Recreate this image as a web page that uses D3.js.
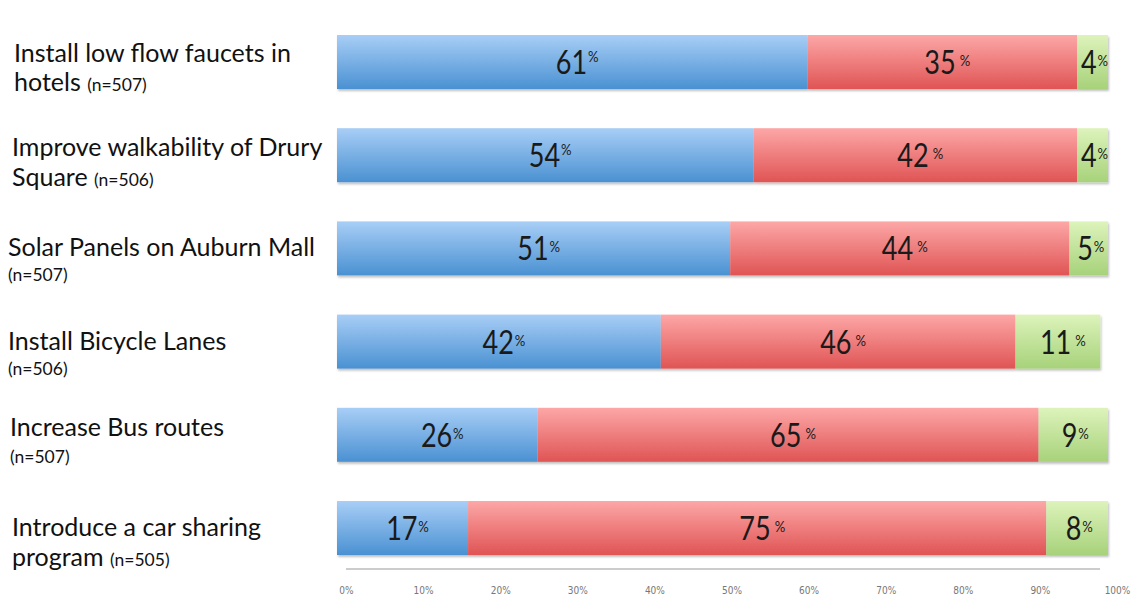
<!DOCTYPE html>
<html>
<head>
<meta charset="utf-8">
<script src="https://cdn.jsdelivr.net/npm/d3@7"></script>
<style>
  html, body { margin: 0; padding: 0; background: #fff; }
  svg { display: block; }
</style>
</head>
<body>
<div id="chart"></div>
<script>
// Survey items, wrapped over two lines; the sample size follows the second line
const labelLines = [
  ["Install low flow faucets in", "hotels"],
  ["Improve walkability of Drury", "Square"],
  ["Solar Panels on Auburn Mall", ""],
  ["Install Bicycle Lanes", ""],
  ["Increase Bus routes", ""],
  ["Introduce a car sharing", "program"]
];
const sampleSizes = [507, 506, 507, 506, 507, 505];

// Response shares (%) per item
const support = [61, 54, 51, 42, 26, 17];
const oppose  = [35, 42, 44, 46, 65, 75];
const unsure  = [4, 4, 5, 11, 9, 8];

const tickValues = [0, 10, 20, 30, 40, 50, 60, 70, 80, 90, 100];

// Label placement (left edge and baselines relative to the bar top)
const labelLayout = {
  x:   [14, 12, 8, 8, 10, 12],
  dy1: [27, 28, 35, 35, 28, 35],
  dy2: [56, 58, 60, 60, 55, 65]
};

const W = 1135, H = 602;
const svg = d3.select("#chart").append("svg").attr("width", W).attr("height", H);

const defs = svg.append("defs");
const grads = [
  { id: "gBlue",  top: "#a8cef6", bottom: "#4a91d2" },
  { id: "gRed",   top: "#fda7a7", bottom: "#e05454" },
  { id: "gGreen", top: "#ddf3bb", bottom: "#a7d27a" }
];
grads.forEach(g => {
  const lg = defs.append("linearGradient").attr("id", g.id)
    .attr("x1", 0).attr("y1", 0).attr("x2", 0).attr("y2", 1);
  lg.append("stop").attr("offset", "0%").attr("stop-color", g.top);
  lg.append("stop").attr("offset", "100%").attr("stop-color", g.bottom);
});
const shadow = defs.append("filter").attr("id", "shadow")
  .attr("x", "-2%").attr("y", "-10%").attr("width", "104%").attr("height", "130%");
shadow.append("feDropShadow").attr("dx", 1).attr("dy", 2).attr("stdDeviation", 1.2)
  .attr("flood-color", "#000").attr("flood-opacity", 0.25);

const rows = d3.range(labelLines.length);
const x = d3.scaleLinear().domain([0, 100]).range([337, 1108]);

const barH = 54, step = 93.2;
const pad = (step - barH) / step;
const y = d3.scaleBand().domain(rows)
  .range([35 - pad * step, 35 - pad * step + step * (rows.length + pad)])
  .paddingInner(pad).paddingOuter(pad);

const seriesList = [
  { values: support, fill: "url(#gBlue)" },
  { values: oppose,  fill: "url(#gRed)" },
  { values: unsure,  fill: "url(#gGreen)" }
];

// Stacked segments with value labels
const barLayer = svg.append("g").attr("filter", "url(#shadow)");
const labelLayer = svg.append("g");
rows.forEach(i => {
  let start = 0;
  seriesList.forEach((s, k) => {
    const v = s.values[i];
    const x0 = x(start), x1 = x(start + v);
    barLayer.append("rect")
      .attr("x", x0).attr("y", y(i))
      .attr("width", x1 - x0).attr("height", y.bandwidth())
      .attr("fill", s.fill);
    const cx = (x0 + x1) / 2 + (v < 10 ? 2 : 5);
    const cy = y(i) + 39;
    const t = labelLayer.append("text")
      .attr("transform", `translate(${cx},${cy}) scale(0.82,1)`)
      .attr("text-anchor", "middle")
      .attr("font-family", "Lato, 'Open Sans', sans-serif")
      .attr("fill", "#1a1a1a");
    t.append("tspan").attr("font-size", 33).text(v);
    t.append("tspan").attr("font-size", 16)
      .attr("dx", k === 0 || v < 10 ? 1 : 5)
      .attr("dy", k === 0 && i < 2 ? -12 : -8).text("%");
    start += v;
  });
});

// Item labels
const lab = svg.append("g")
  .attr("font-family", "Lato, 'Open Sans', sans-serif")
  .attr("fill", "#111");
rows.forEach(i => {
  const [l1, l2] = labelLines[i];
  const top = y(i);
  const lx = labelLayout.x[i];
  lab.append("text").attr("x", lx).attr("y", top + labelLayout.dy1[i])
    .attr("font-size", 25).text(l1);
  const t2 = lab.append("text").attr("x", lx).attr("y", top + labelLayout.dy2[i]);
  if (l2 !== "") {
    t2.append("tspan").attr("font-size", 25).text(l2 + " ");
  }
  t2.append("tspan").attr("font-size", 17.5).text("(n=" + sampleSizes[i] + ")");
});

// Percent axis
const axis = d3.axisBottom(x).tickValues(tickValues)
  .tickFormat(d => d + "%").tickSize(0).tickPadding(18);
const ax = svg.append("g").attr("transform", "translate(9,569)").call(axis);
ax.select(".domain").attr("stroke", "#9a9a9a").attr("stroke-width", 1.2)
  .attr("d", `M${x(0)},0H${x(100) - 17}`);
ax.selectAll("text")
  .attr("font-family", "'DejaVu Sans Condensed', 'DejaVu Sans', sans-serif")
  .attr("font-stretch", "condensed")
  .attr("font-size", 10).attr("fill", "#777");
</script>
</body>
</html>
